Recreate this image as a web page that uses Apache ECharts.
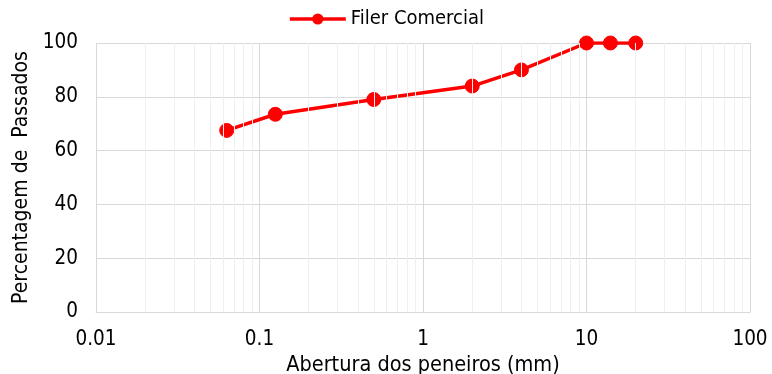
<!DOCTYPE html>
<html><head><meta charset="utf-8">
<script src="https://cdn.jsdelivr.net/npm/echarts@6/dist/echarts.min.js"></script>
<style>html,body{margin:0;padding:0;background:#fff}#c{width:772px;height:374px}</style>
</head><body><div id="c"></div>
<script>
const seriesName = 'Filer Comercial';
const sieveSizes = [0.063, 0.125, 0.5, 2, 4, 10, 14, 20];
const passing = [67.5, 73.5, 79, 84, 90, 100, 100, 100];
const minorGrid = [0.02,0.03,0.04,0.05,0.06,0.07,0.08,0.09,
  0.2,0.3,0.4,0.5,0.6,0.7,0.8,0.9,
  2,3,4,5,6,7,8,9,
  20,30,40,50,60,70,80,90];
const FONT = '"DejaVu Sans Condensed", "Liberation Sans Narrow", sans-serif';
const pts = sieveSizes.map((x, i) => [x, passing[i]]);
const chart = echarts.init(document.getElementById('c'));
chart.setOption({
  animation: false,
  textStyle: {fontFamily: FONT},
  legend: {top: 4, left: 'center', itemWidth: 56, itemHeight: 14, itemGap: 6,
    lineStyle: {width: 3.5, color: '#ff0000'},
    itemStyle: {color: '#ff0000', borderWidth: 0},
    textStyle: {fontFamily: FONT, fontSize: 20, color: '#000'},
    data: [seriesName]},
  grid: {left: 96, right: 22, top: 43, bottom: 62, containLabel: false, outerBoundsMode: 'none'},
  xAxis: {type: 'log', logBase: 10, min: 0.01, max: 100,
    name: 'Abertura dos peneiros (mm)', nameLocation: 'middle', nameGap: 32,
    nameTextStyle: {fontFamily: FONT, fontSize: 21.5, color: '#000'},
    axisLine: {show: true, lineStyle: {color: '#d9d9d9', width: 1}},
    axisTick: {show: false},
    axisLabel: {fontFamily: FONT, fontSize: 20.5, color: '#000', margin: 17,
      formatter: v => String(v)},
    splitLine: {show: true, lineStyle: {color: '#d9d9d9', width: 1}}},
  yAxis: {type: 'value', min: 0, max: 100, interval: 20,
    name: 'Percentagem de  Passados', nameLocation: 'middle', nameGap: 62,
    nameTextStyle: {fontFamily: FONT, fontSize: 21, color: '#000'},
    axisLine: {show: false}, axisTick: {show: false},
    axisLabel: {fontFamily: FONT, fontSize: 20.5, color: '#000', margin: 18},
    splitLine: {show: true, lineStyle: {color: '#d9d9d9', width: 1}}},
  series: [
    {type: 'line', name: '_grid', data: [], z: 1, silent: true,
      markLine: {silent: true, symbol: 'none', label: {show: false},
        lineStyle: {color: '#efefef', width: 1, type: 'solid'},
        data: minorGrid.map(v => ({xAxis: v}))}},
    {type: 'line', name: seriesName, z: 3,
      data: pts,
      symbol: 'circle', symbolSize: 14,
      lineStyle: {color: '#ff0000', width: 3.5},
      itemStyle: {color: '#ff0000', borderColor: '#ff0000', borderWidth: 1}}
  ]
});
</script></body></html>
